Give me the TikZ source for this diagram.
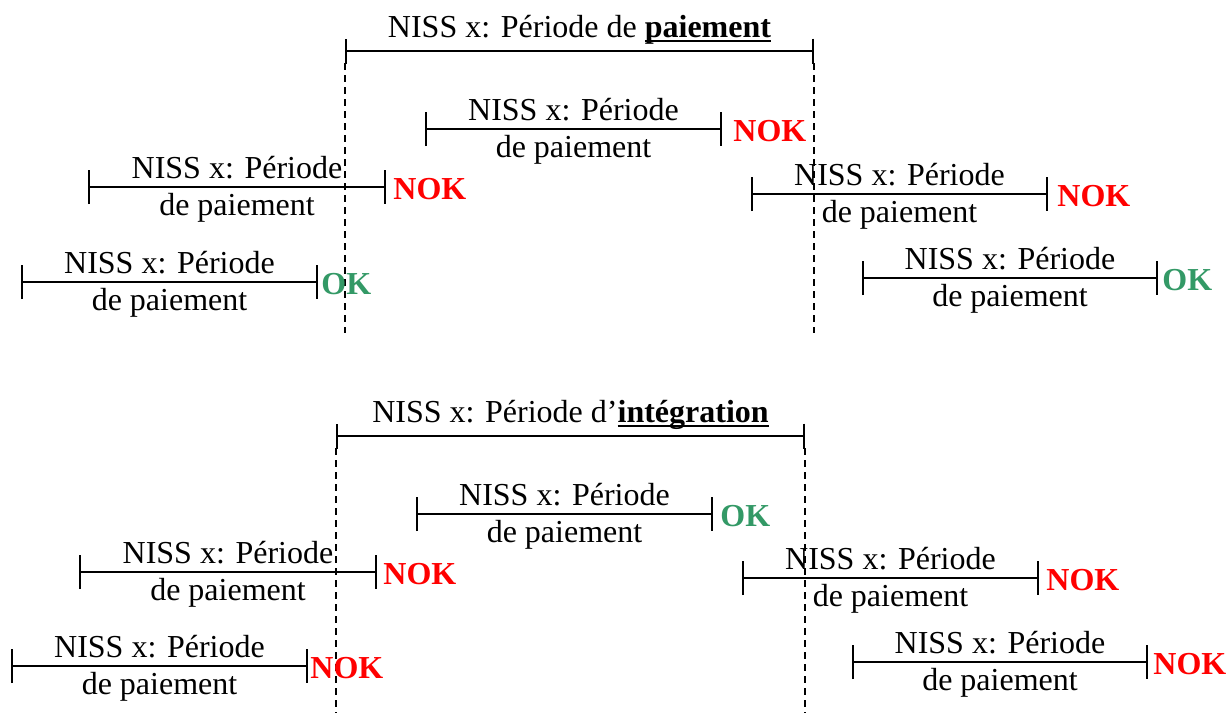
\documentclass[tikz,border=0pt]{standalone}
\usepackage{fontspec}
\setmainfont{Liberation Serif}
\usepackage{xcolor}
\usepackage{tikz}
\usetikzlibrary{arrows.meta}
\definecolor{okgreen}{RGB}{51,153,102}
\definecolor{nokred}{RGB}{255,0,0}
\newcommand{\souligne}[1]{\setbox0\hbox{#1}\rlap{\rule[-2.6pt]{\wd0}{1pt}}\box0}

\begin{document}
\begin{tikzpicture}[x=0.5pt, y=-0.5pt,
		font=\fontsize{16}{18}\selectfont,
		periode/.style={line width=1pt, {Bar[width=17pt]}-{Bar[width=17pt]}},
		reference/.style={line width=1pt, {Bar[width=12.5pt]}-{Bar[width=12.5pt]}},
		limite/.style={line width=0.8pt, dash pattern=on 3.5pt off 2.5pt},
		lbl/.style={inner sep=0pt, anchor=base},
		verdict/.style={inner sep=0pt, anchor=base west, font=\fontsize{16}{18}\selectfont\bfseries}]
	\useasboundingbox (0,0) rectangle (1229,713);

	% periode de paiement (haut)
	\coordinate (P-g) at (345,51);
	\coordinate (P-d) at (814,51);
	\coordinate (P-gbas) at (345,333);
	\coordinate (P-dbas) at (814,333);
	\draw[reference] (P-g) -- (P-d);
	\draw[limite] ([yshift=-6pt]P-g) -- (P-gbas);
	\draw[limite] ([yshift=-6pt]P-d) -- (P-dbas);
	\node[lbl] (P-titre) at ({(345+814)/2}, 37) {NISS x: Période de \souligne{\textbf{paiement}}};

	% periode d'integration (bas)
	\coordinate (I-g) at (336,436);
	\coordinate (I-d) at (805,436);
	\coordinate (I-gbas) at (336,713);
	\coordinate (I-dbas) at (805,713);
	\draw[reference] (I-g) -- (I-d);
	\draw[limite] ([yshift=-6pt]I-g) -- (I-gbas);
	\draw[limite] ([yshift=-6pt]I-d) -- (I-dbas);
	\node[lbl] (I-titre) at ({(336+805)/2}, 422) {NISS x: Période d’\souligne{\textbf{intégration}}};

	% periodes de paiement testees
	\foreach \nom/\xg/\xd/\y/\xv/\res/\couleur in {
			a1/425/722/129/733/NOK/nokred,
			a2/88/386/187/393/NOK/nokred,
			a3/21/318/282/321/OK/okgreen,
			a4/751/1048/194/1057/NOK/nokred,
			a5/862/1158/278/1162/OK/okgreen,
			b1/416/713/514/720/OK/okgreen,
			b2/79/377/572/383/NOK/nokred,
			b3/11/308/666/310/NOK/nokred,
			b4/742/1039/578/1046/NOK/nokred,
			b5/852/1148/662/1153/NOK/nokred} {
			\coordinate (\nom-g) at (\xg,\y);
			\coordinate (\nom-d) at (\xd,\y);
			\draw[periode] (\nom-g) -- (\nom-d);
			\node[lbl] (\nom-haut) at ({(\xg+\xd)/2}, \y-9) {NISS x: Période};
			\node[lbl] (\nom-bas) at ({(\xg+\xd)/2}, \y+28) {de paiement};
			\node[verdict, text=\couleur] (\nom-res) at (\xv, \y+12) {\res};
		}
\end{tikzpicture}
\end{document}
